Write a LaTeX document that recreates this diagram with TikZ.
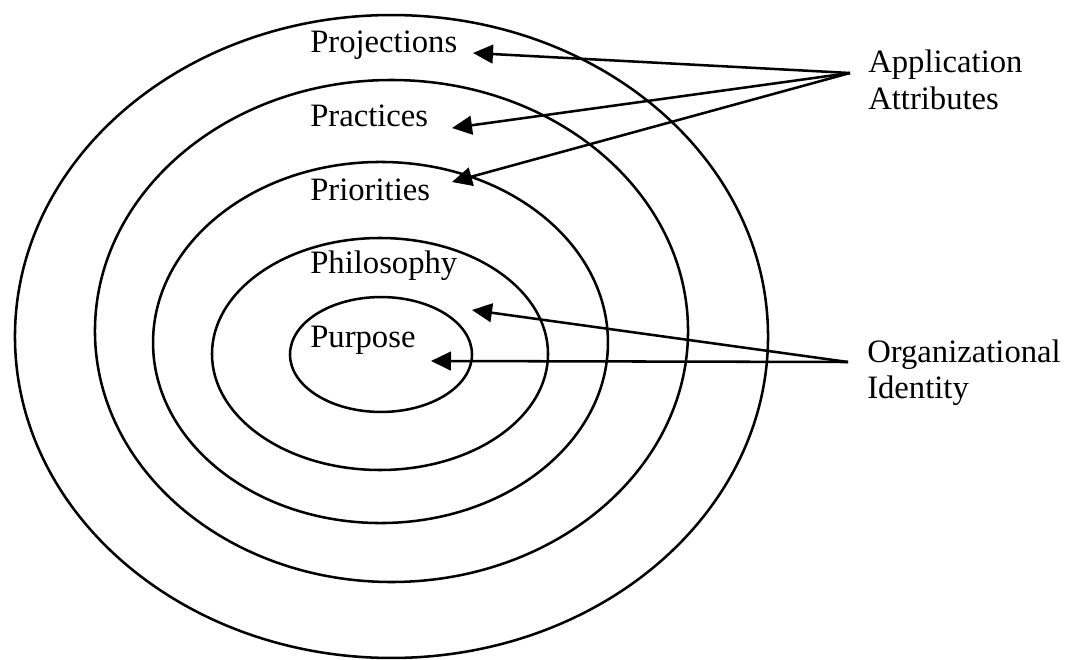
\documentclass[tikz,border=0pt]{standalone}
\usepackage{fontspec}
\setmainfont{Liberation Serif}
\usetikzlibrary{arrows.meta}
\begin{document}
\begin{tikzpicture}[x=0.75pt,y=-0.75pt,
  ring/.style={line width=1.9pt},
  arr/.style={line width=1.9pt,-{Triangle[length=15pt,width=14pt]}},
  lbl/.style={inner sep=0pt,anchor=base west,font=\fontsize{24.5}{28}\selectfont}]
\useasboundingbox (0,0) rectangle (1072,660);
% rings
\draw[ring] (391.5,336.5) ellipse [x radius=282.4pt, y radius=241.1pt];
\draw[ring] (391.5,331) ellipse [x radius=222.4pt, y radius=188.25pt];
\draw[ring] (380.5,342.5) ellipse [x radius=170.6pt, y radius=135.4pt];
\draw[ring] (380,354) ellipse [x radius=126pt, y radius=87pt];
\draw[ring] (381,354.5) ellipse [x radius=68.25pt, y radius=43.1pt];
% ring labels
\node[lbl] (proj) at (310,53) {Projections};
\node[lbl] (prac) at (310,127) {Practices};
\node[lbl] (prio) at (310,200) {Priorities};
\node[lbl] (phil) at (310,273) {Philosophy};
\node[lbl] (purp) at (310,347) {Purpose};
% right labels
\node[lbl] (appA) at (868,73) {Application};
\node[lbl] (appB) at (868,110) {Attributes};
\node[lbl] (orgA) at (867,362) {Organizational};
\node[lbl] (orgB) at (867,398) {Identity};
% connector points
\coordinate (aa) at (850,73);
\coordinate (oi) at (848,362);
\coordinate (tProj) at (473,53);
\coordinate (tPrac) at (452,128);
\coordinate (tPrio) at (452,182);
\coordinate (tPhil) at (472,310);
\coordinate (tPurp) at (431,361);
\draw[arr] (aa) -- (tProj);
\draw[arr] (aa) -- (tPrac);
\draw[arr] (aa) -- (tPrio);
\draw[arr] (oi) -- (tPhil);
\draw[arr] (oi) -- (tPurp);
\end{tikzpicture}
\end{document}
